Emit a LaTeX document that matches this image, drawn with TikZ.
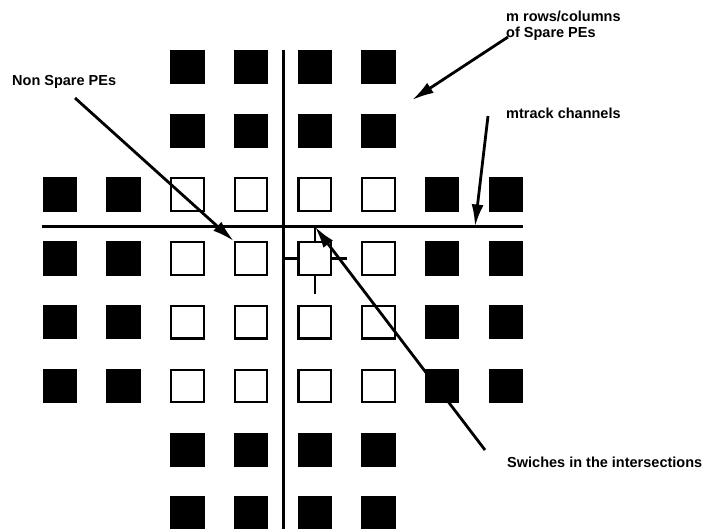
\documentclass[tikz,border=0pt]{standalone}
\usepackage{fontspec}
\setmainfont{Liberation Sans}
\usetikzlibrary{arrows.meta}
\tikzstyle{spare} = [draw, fill, rectangle, line width=2pt, minimum size=32.5pt, inner sep=0pt]
\tikzstyle{pe} = [draw, rectangle, line width=2.2pt, minimum size=32.5pt, inner sep=0pt]
\tikzstyle{channel} = [line width=3.4pt]
\tikzstyle{switch} = [line width=2.2pt]
\tikzstyle{pointer} = [line width=2.8pt, ->]
\tikzstyle{note} = [font=\fontsize{14.5}{16}\selectfont\bfseries, inner sep=0pt, anchor=base west, align=left]

\begin{document}
\begin{tikzpicture}[x=1pt, y=-1pt, >={Latex[length=22pt,width=12pt]}]
    \useasboundingbox (0,0) rectangle (703,528);
    \clip (0,0) rectangle (703,528);

    % We start by placing the PEs: spare ones filled, the others open
    \foreach \r in {1,2,7,8}
        \foreach \c in {3,...,6}
            \node [spare] (pe\r\c) at ({60+63.7*(\c-1)}, {67+63.8*(\r-1)}) {};
    \foreach \r in {3,...,6} {
        \foreach \c in {1,2,7,8}
            \node [spare] (pe\r\c) at ({60+63.7*(\c-1)}, {67+63.8*(\r-1)}) {};
        \foreach \c in {3,...,6}
            \node [pe] (pe\r\c) at ({60+63.7*(\c-1)}, {67+63.8*(\r-1)}) {};
    }

    % The two track channels
    \coordinate (vtop) at (283.2,50);
    \coordinate (vbot) at (283.2,540);
    \coordinate (hleft) at (42,226.5);
    \coordinate (hright) at (523,226.5);
    \draw [channel] (vtop) -- (vbot);
    \draw [channel] (hleft) -- (hright);

    % Switch links round one PE
    \coordinate (sw) at (pe45.north |- hleft);
    \draw [switch] (pe45.west) -- (pe45.west -| vtop);
    \draw [switch] (pe45.east) -- ++(15,0);
    \draw [switch] (pe45.north) -- (sw);
    \draw [switch] (pe45.south) -- ++(0,18);

    % Labels
    \node [note] (nonspare) at (12,85) {Non Spare PEs};
    \node [note] (sparepes) at (506,37.7) {m rows/columns\\of Spare PEs};
    \node [note] (mtrack) at (506,118) {mtrack channels};
    \node [note] (swiches) at (507,467) {Swiches in the intersections};

    % Once the labels are placed, the pointers follow
    \coordinate (nonspare-end) at (75,98);
    \coordinate (sparepes-end) at (508,37);
    \coordinate (sparepes-tip) at (412,100);
    \coordinate (mtrack-end) at (488,116);
    \coordinate (mtrack-tip) at (475,226.5);
    \coordinate (swiches-end) at (485,450);
    \draw [pointer] (nonspare-end) -- (pe44.north west);
    \draw [pointer] (sparepes-end) -- (sparepes-tip);
    \draw [pointer] (mtrack-end) -- (mtrack-tip);
    \draw [pointer] (swiches-end) -- (sw);
\end{tikzpicture}
\end{document}
